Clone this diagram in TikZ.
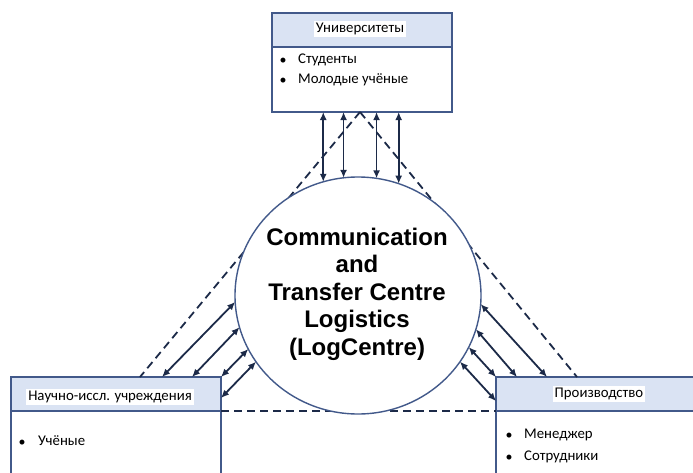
\documentclass[tikz,border=0pt]{standalone}
\usepackage{fontspec}
\setmainfont{Carlito}
\newfontfamily\arialfont{Liberation Sans}
\usetikzlibrary{arrows.meta,calc,shapes.geometric}
\definecolor{boxline}{HTML}{42598A}
\definecolor{hdr}{HTML}{DAE3F3}
\definecolor{arr}{HTML}{1C2A48}
\tikzset{
  box/.style={draw=boxline, line width=1.5pt, fill=white, rectangle, anchor=north west, inner sep=0pt, outer sep=0pt},
  hdrbox/.style={box, fill=hdr},
  lbl/.style={fill=white, inner sep=2pt, font=\fontsize{14.8}{17}\selectfont},
  item/.style={anchor=mid west, inner sep=0pt, font=\fontsize{14.8}{17}\selectfont},
  bul/.style={inner sep=0pt, font=\fontsize{14}{16}\selectfont},
  dline/.style={draw=arr, line width=1.8pt, dash pattern=on 8pt off 5pt},
  link/.style={draw=arr, line width=1.8pt, {Latex[length=8pt,width=7pt]}-{Latex[length=8pt,width=7pt]}},
  hub/.style={ellipse, draw=boxline, line width=1.4pt, fill=white, minimum width=246pt, minimum height=237pt, inner sep=0pt, outer sep=0pt},
  hubtext/.style={align=center, inner sep=0pt, font=\arialfont\bfseries\fontsize{24}{27.5}\selectfont},
}
\begin{document}
\begin{tikzpicture}[x=1pt,y=-1pt]
\useasboundingbox (0,0) rectangle (693,472);
\clip (0,0) rectangle (693,472);
% boxes
\node[box, minimum width=180pt, minimum height=99pt] (U) at (272,13) {};
\node[hdrbox, minimum width=180pt, minimum height=34pt] (Uh) at (272,13) {};
\node[box, minimum width=210pt, minimum height=130pt] (L) at (11,377) {};
\node[hdrbox, minimum width=210pt, minimum height=34pt] (Lh) at (11,377) {};
\node[box, minimum width=230pt, minimum height=130pt] (R) at (496,377) {};
\node[hdrbox, minimum width=230pt, minimum height=34pt] (Rh) at (496,377) {};
% labels
\node[lbl] (ut) at (360,29) {Университеты};
\node[bul] (ub1) at (283,61) {•};
\node[item] (ui1) at (298,61) {Студенты};
\node[bul] (ub2) at (283,81) {•};
\node[item] (ui2) at (298,81) {Молодые учёные};
\node[lbl] (lt) at (110,397) {Научно-иссл. учреждения};
\node[bul] (lb1) at (22,443) {•};
\node[item] (li1) at (38,443) {Учёные};
\node[lbl] (rt) at (599,394) {Производство};
\node[bul] (rb1) at (509,436) {•};
\node[item] (ri1) at (524,436) {Менеджер};
\node[bul] (rb2) at (509,458) {•};
\node[item] (ri2) at (524,458) {Сотрудники};
% dashed triangle
\coordinate (apex) at ($(U.south west)+(88,0)$);
\coordinate (dl) at ($(L.north west)+(129,0)$);
\coordinate (dr) at ($(R.north west)+(81,0)$);
\draw[dline] (apex) -- (dl);
\draw[dline] (apex) -- (dr);
\draw[dline] (Lh.south east) -- (Rh.south west);
% hub
\node[hub] (C) at (358,295.5) {};
\node[hubtext] (T) at (357,294) {Communication\\and\\Transfer Centre\\Logistics\\(LogCentre)};
% top links
\foreach \a in {107.6,97.75,81.3,70.9}{
  \draw[link] (U.south -| C.\a) -- (C.\a);
}
% left links
\coordinate (l1) at ($(L.north west)+(151,0)$);
\coordinate (l2) at ($(L.north west)+(181,0)$);
\coordinate (l3) at (L.north east);
\coordinate (l4) at ($(L.north east)+(0,21)$);
\draw[link] (l1) -- (C.183.8);
\draw[link] (l2) -- (C.195.85);
\draw[link] (l3) -- (C.206.25);
\draw[link] (l4) -- (C.213.4);
% right links
\coordinate (r1) at ($(R.north west)+(51,0)$);
\coordinate (r2) at ($(R.north west)+(21,0)$);
\coordinate (r3) at (R.north west);
\coordinate (r4) at ($(R.north west)+(0,24)$);
\draw[link] (C.356.6) -- (r1);
\draw[link] (C.344.3) -- (r2);
\draw[link] (C.335.3) -- (r3);
\draw[link] (C.327.3) -- (r4);
\end{tikzpicture}
\end{document}
